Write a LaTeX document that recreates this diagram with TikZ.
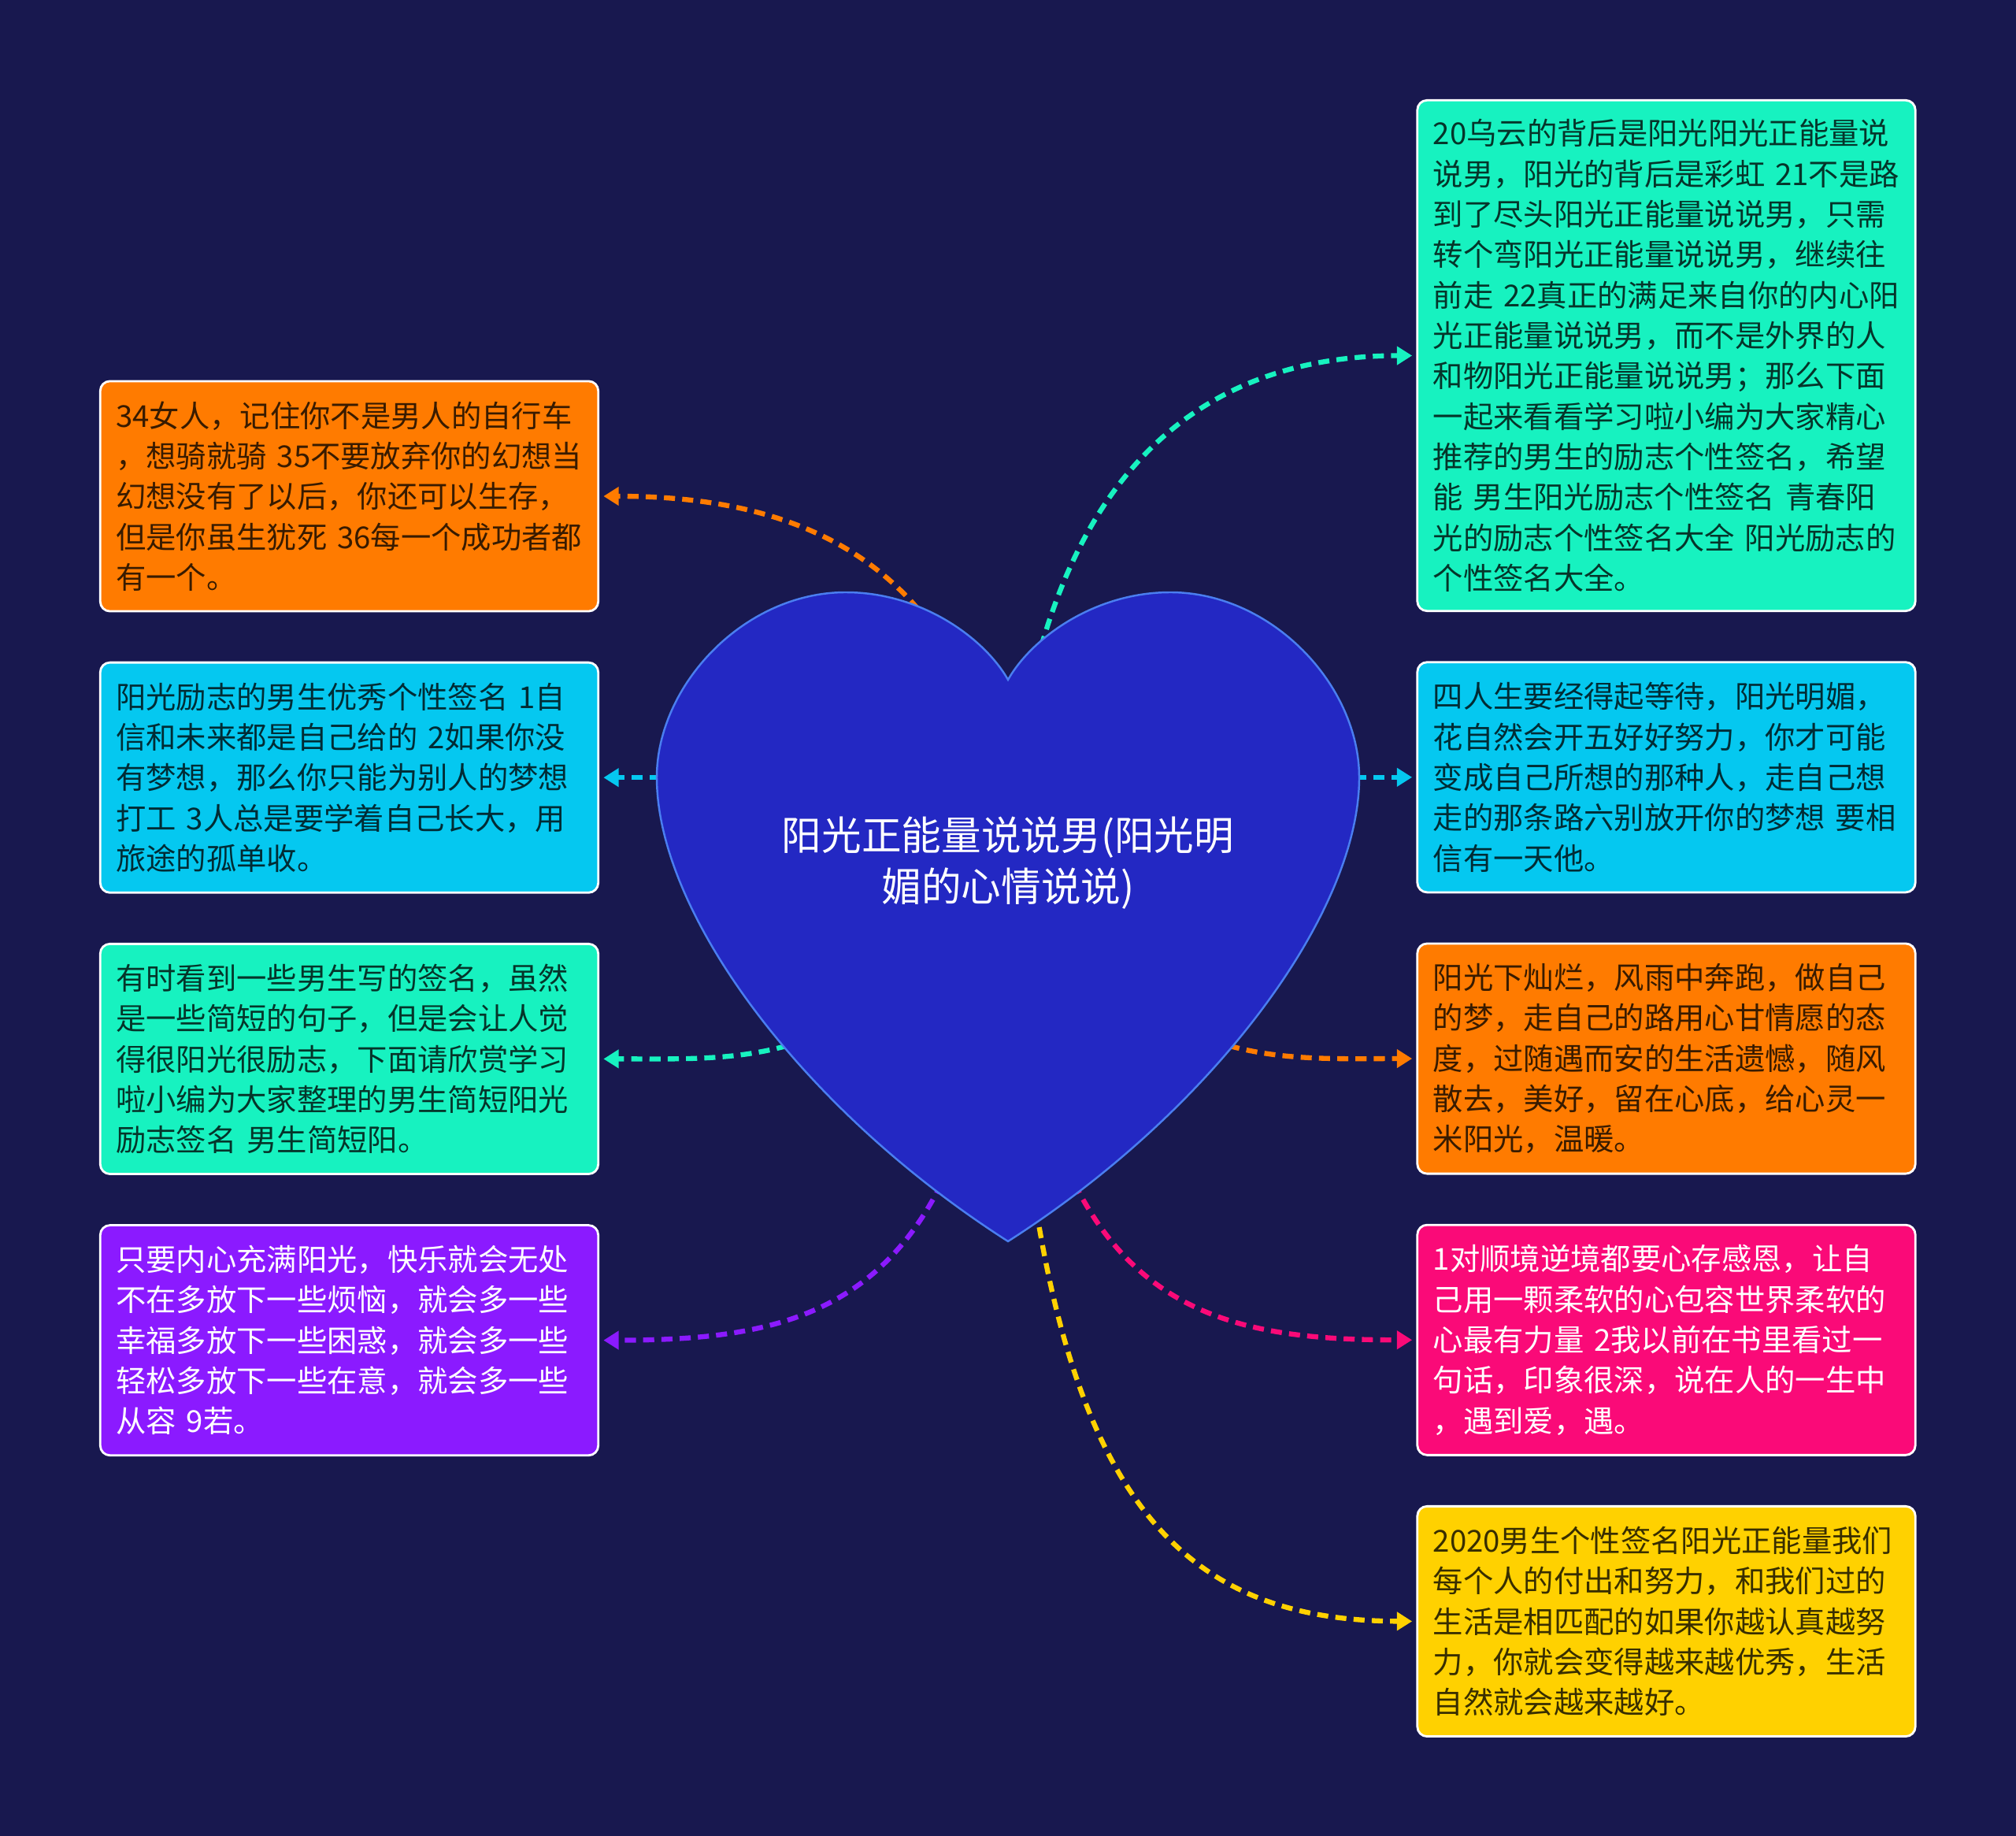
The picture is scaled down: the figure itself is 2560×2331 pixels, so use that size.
\documentclass[tikz,border=0pt]{standalone}
\usepackage{fontspec}
\setmainfont{Noto Sans CJK SC}
\usepackage{xcolor}
\usetikzlibrary{arrows.meta,positioning}
\definecolor{MoodNight}{HTML}{18184F}
\definecolor{MoodHeart}{HTML}{2328C3}
\definecolor{MoodHeartLine}{HTML}{4A7EF0}
\definecolor{MoodOrange}{HTML}{FF7B00}
\definecolor{MoodCyan}{HTML}{05C8F0}
\definecolor{MoodTeal}{HTML}{17F2C0}
\definecolor{MoodPurple}{HTML}{8B1AFF}
\definecolor{MoodPink}{HTML}{FA0A78}
\definecolor{MoodGold}{HTML}{FFD100}
\pgfdeclarelayer{back}
\pgfdeclarelayer{links}
\pgfdeclarelayer{heart}
\pgfsetlayers{back,links,heart,main}

\begin{document}
\begin{tikzpicture}[
  x=0.01cm, y=-0.01cm,
  node distance=0.622cm,
  card/.style={draw=white, line width=0.8pt, fill=#1, rounded corners=3.5pt, text width=5.92cm, inner xsep=0.2cm, inner ysep=0pt, minimum height=2.92cm, align=left, text=#1!22!black, font=\fontsize{10.9pt}{14.6pt}\selectfont},
  darkcard/.style={card=#1, text=white},
  link/.style={draw=#1, line width=1.8pt, dash pattern=on 4pt off 2.6pt, -{Triangle[length=5.5pt,width=6.5pt]}, shorten >=1.5pt}
]
\useasboundingbox (0,0) rectangle (2560,2331);
\begin{pgfonlayer}{back}
\fill[MoodNight] (0,0) rectangle (2560,2331);
\end{pgfonlayer}

\node[text=white, align=center, font=\fontsize{14.4pt}{18.5pt}\selectfont] (root) at (1280,1096) {阳光正能量说说男(阳光明\\媚的心情说说)};

\node[card=MoodOrange] (bike) at (443.5,630) {34女人，记住你不是男人的自行车\\，想骑就骑~35不要放弃你的幻想当\\幻想没有了以后，你还可以生存，\\但是你虽生犹死~36每一个成功者都\\有一个。};
\node[card=MoodCyan, below=of bike] (dream) {阳光励志的男生优秀个性签名~1自\\信和未来都是自己给的~2如果你没\\有梦想，那么你只能为别人的梦想\\打工~3人总是要学着自己长大，用\\旅途的孤单收。};
\node[card=MoodTeal, below=of dream] (brief) {有时看到一些男生写的签名，虽然\\是一些简短的句子，但是会让人觉\\得很阳光很励志，下面请欣赏学习\\啦小编为大家整理的男生简短阳光\\励志签名~男生简短阳。};
\node[darkcard=MoodPurple, below=of brief] (calm) {只要内心充满阳光，快乐就会无处\\不在多放下一些烦恼，就会多一些\\幸福多放下一些困惑，就会多一些\\轻松多放下一些在意，就会多一些\\从容~9若。};

\node[card=MoodTeal, minimum height=6.48cm] (rainbow) at (2116,451.5) {20乌云的背后是阳光阳光正能量说\\说男，阳光的背后是彩虹~21不是路\\到了尽头阳光正能量说说男，只需\\转个弯阳光正能量说说男，继续往\\前走~22真正的满足来自你的内心阳\\光正能量说说男，而不是外界的人\\和物阳光正能量说说男；那么下面\\一起来看看学习啦小编为大家精心\\推荐的男生的励志个性签名，希望\\能~男生阳光励志个性签名~青春阳\\光的励志个性签名大全~阳光励志的\\个性签名大全。};
\node[card=MoodCyan, below=of rainbow] (wait) {四人生要经得起等待，阳光明媚，\\花自然会开五好好努力，你才可能\\变成自己所想的那种人，走自己想\\走的那条路六别放开你的梦想~要相\\信有一天他。};
\node[card=MoodOrange, below=of wait] (sunrun) {阳光下灿烂，风雨中奔跑，做自己\\的梦，走自己的路用心甘情愿的态\\度，过随遇而安的生活遗憾，随风\\散去，美好，留在心底，给心灵一\\米阳光，温暖。};
\node[darkcard=MoodPink, below=of sunrun] (thanks) {1对顺境逆境都要心存感恩，让自\\己用一颗柔软的心包容世界柔软的\\心最有力量~2我以前在书里看过一\\句话，印象很深，说在人的一生中\\，遇到爱，遇。};
\node[card=MoodGold, below=of thanks] (effort) {2020男生个性签名阳光正能量我们\\每个人的付出和努力，和我们过的\\生活是相匹配的如果你越认真越努\\力，你就会变得越来越优秀，生活\\自然就会越来越好。};

\begin{pgfonlayer}{heart}
\filldraw[fill=MoodHeart, draw=MoodHeartLine, line width=0.7pt] (1280,863) .. controls (1250,810) and (1170,752) .. (1074,752) .. controls (945,752) and (834,870) .. (834,987) .. controls (834,1160) and (1020,1410) .. (1280,1576) .. controls (1540,1410) and (1726,1160) .. (1726,987) .. controls (1726,870) and (1615,752) .. (1486,752) .. controls (1390,752) and (1310,810) .. (1280,863) -- cycle;
\end{pgfonlayer}

\begin{pgfonlayer}{links}
\draw[link=MoodOrange] (root.center) .. controls (1250,700) and (1000,630) .. (bike.east);
\draw[link=MoodCyan] (root.center |- dream.east) -- (dream.east);
\draw[link=MoodTeal] (root.center) .. controls (1100,1360) and (950,1344) .. (brief.east);
\draw[link=MoodPurple] (root.center) .. controls (1250,1650) and (1050,1701) .. (calm.east);
\draw[link=MoodTeal] (root.center) .. controls (1300,700) and (1450,452) .. (rainbow.west);
\draw[link=MoodCyan] (root.center |- wait.west) -- (wait.west);
\draw[link=MoodOrange] (root.center) .. controls (1460,1360) and (1610,1344) .. (sunrun.west);
\draw[link=MoodPink] (root.center) .. controls (1310,1650) and (1510,1701) .. (thanks.west);
\draw[link=MoodGold] (root.center) .. controls (1300,1860) and (1460,2057) .. (effort.west);
\end{pgfonlayer}
\end{tikzpicture}
\end{document}
